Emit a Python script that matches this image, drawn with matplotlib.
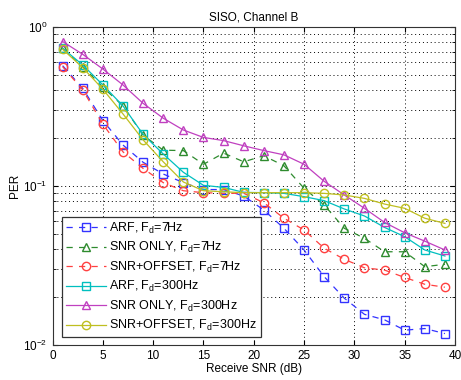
import matplotlib.pyplot as plt
from matplotlib.ticker import LogLocator, NullFormatter

snr = [1, 3, 5, 7, 9, 11, 13, 15, 17, 19, 21, 23, 25, 27, 29, 31, 33, 35, 37, 39]

# PER, Fd = 7 Hz
arf_7 = [0.571, 0.411, 0.258, 0.181, 0.141, 0.119, 0.105, 0.095, 0.095, 0.0865,
         0.0706, 0.0542, 0.0396, 0.0269, 0.0197, 0.0156, 0.0144, 0.0124, 0.0127, 0.0118]
snr_only_7 = [0.734, 0.563, 0.418, 0.319, 0.209, 0.168, 0.167, 0.137, 0.161, 0.142,
              0.155, 0.134, 0.0967, 0.0759, 0.0542, 0.0469, 0.0386, 0.0386, 0.0311, 0.0322]
snr_off_7 = [0.563, 0.402, 0.245, 0.164, 0.129, 0.105, 0.0934, 0.0908, 0.090, 0.090,
             0.0785, 0.0627, 0.0529, 0.0406, 0.0346, 0.0306, 0.0296, 0.0266, 0.0241, 0.0231]

# PER, Fd = 300 Hz
arf_300 = [0.734, 0.577, 0.432, 0.319, 0.211, 0.159, 0.122, 0.101, 0.098, 0.0912,
           0.0908, 0.0899, 0.0857, 0.0809, 0.0717, 0.0648, 0.0549, 0.048, 0.0396, 0.0363]
snr_only_300 = [0.81, 0.673, 0.544, 0.432, 0.331, 0.267, 0.225, 0.202, 0.193, 0.179,
                0.167, 0.157, 0.137, 0.107, 0.0878, 0.0724, 0.059, 0.0508, 0.045, 0.0396]
snr_off_300 = [0.724, 0.555, 0.406, 0.284, 0.195, 0.142, 0.106, 0.0934, 0.092, 0.0908,
               0.0908, 0.0908, 0.0908, 0.0899, 0.0878, 0.0836, 0.077, 0.0724, 0.0627, 0.0582]

series = [
    (arf_7, r'ARF, F$_d$=7Hz', '#3333ff', 's', '--'),
    (snr_only_7, r'SNR ONLY, F$_d$=7Hz', '#2e8b2e', '^', '--'),
    (snr_off_7, r'SNR+OFFSET, F$_d$=7Hz', '#ff4040', 'o', '--'),
    (arf_300, r'ARF, F$_d$=300Hz', '#00bfbf', 's', '-'),
    (snr_only_300, r'SNR ONLY, F$_d$=300Hz', '#c040c0', '^', '-'),
    (snr_off_300, r'SNR+OFFSET, F$_d$=300Hz', '#bfbf20', 'o', '-'),
]

plt.rcParams['font.family'] = 'Liberation Sans'
plt.rcParams['mathtext.fontset'] = 'custom'
plt.rcParams['mathtext.rm'] = 'Liberation Sans'
plt.rcParams['mathtext.default'] = 'regular'

fig = plt.figure(figsize=(4.61, 3.80), dpi=100)
ax = fig.add_axes([0.114, 0.092, 0.873, 0.837])

for y, label, color, marker, ls in series:
    ax.plot(snr, y, linestyle=ls, color=color, marker=marker, markersize=6,
            markerfacecolor='none', markeredgecolor=color, linewidth=0.9,
            dashes=(5, 5) if ls == '--' else (None, None), label=label)

ax.set_yscale('log')
ax.set_xlim(0, 40)
ax.set_ylim(1e-2, 1)
ax.set_xticks(range(0, 41, 5))
ax.yaxis.set_major_locator(LogLocator(base=10))
ax.yaxis.set_minor_locator(LogLocator(base=10, subs=range(2, 10)))
ax.yaxis.set_minor_formatter(NullFormatter())

ax.grid(True, which='major', color='black', linestyle=(0, (1, 3)), linewidth=0.7)
ax.grid(True, which='minor', axis='y', color='black', linestyle=(0, (1, 3)), linewidth=0.7)
ax.tick_params(which='both', direction='in', labelsize=8.5, top=True, right=True)
ax.tick_params(which='minor', length=2)
for s in ax.spines.values():
    s.set_linewidth(0.8)
    s.set_color('#333333')

ax.set_title('SISO, Channel B', fontsize=8.5, pad=5)
ax.set_xlabel('Receive SNR (dB)', fontsize=8.5, labelpad=1)
ax.set_ylabel('PER', fontsize=8.5, labelpad=2)

leg = ax.legend(loc='lower left', bbox_to_anchor=(0.023, 0.025), fontsize=9,
                fancybox=False, framealpha=1, edgecolor='#333333',
                handlelength=3.2, borderpad=0.3, labelspacing=0.35,
                handletextpad=0.3, borderaxespad=0)
leg.get_frame().set_linewidth(0.9)

fig.savefig('out.png', dpi=100)
